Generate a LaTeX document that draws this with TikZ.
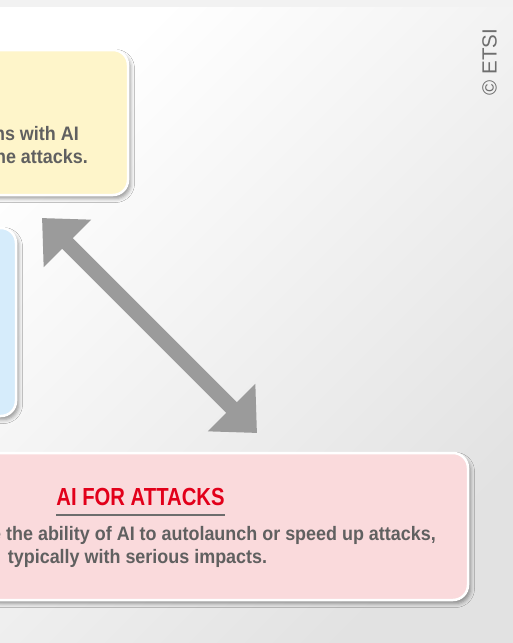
\documentclass[tikz,border=0pt]{standalone}
\usepackage{fontspec}
\setmainfont{Liberation Sans}
\newfontfamily\titlefont[FakeStretch=0.82]{Liberation Sans}
\newfontfamily\bodyfont[FakeStretch=0.92]{Liberation Sans}
\usetikzlibrary{arrows.meta,shadows.blur}
\definecolor{yellowfill}{HTML}{FEF5CA}
\definecolor{bluefill}{HTML}{D6ECFB}
\definecolor{redfill}{HTML}{FADADC}
\definecolor{arrowgray}{HTML}{9B9B9B}
\definecolor{textgray}{HTML}{606060}
\definecolor{titlered}{HTML}{E2001A}
\definecolor{linegray}{HTML}{6D6D6D}
\definecolor{bgdark}{HTML}{E2E2E2}
\definecolor{copygray}{HTML}{6E6E6E}
\tikzset{
  panel/.style={draw=white, line width=2.5pt, rounded corners=15pt,
    blur shadow={shadow xshift=2.5pt, shadow yshift=-3.5pt, shadow blur radius=4pt, shadow opacity=40}},
  bodytext/.style={inner sep=0pt, text=textgray, font=\bodyfont\bfseries\fontsize{19.5}{23}\selectfont},
  titletext/.style={inner sep=0pt, text=titlered, font=\titlefont\bfseries\fontsize{24.7}{28}\selectfont},
  bigarrow/.style={draw=arrowgray, fill=arrowgray, line width=15pt,
    {Triangle[width=65pt,length=36pt]}-{Triangle[width=65pt,length=36pt]}},
}
\begin{document}
\begin{tikzpicture}[x=1pt,y=-1pt]
\useasboundingbox (0,0) rectangle (513,643);
\clip (0,0) rectangle (513,643);
% background
\shade[top color=white, bottom color=bgdark, shading angle=45] (0,0) rectangle (513,643);
\fill[black!5] (0,0) rectangle (513,7);
% panels
\path[panel, fill=yellowfill] (-300,50) rectangle (128,195);
\path[panel, fill=bluefill] (-300,228) rectangle (16,416);
\path[panel, fill=redfill] (-300,453) rectangle (468,600);
% yellow panel text
\node[bodytext, anchor=base east] (y1) at (79,140.5) {ns with AI};
\node[bodytext, anchor=base east] (y2) at (88,163.5) {ne attacks.};
% red panel text
\node[titletext, anchor=base] (title) at (140.5,505) {AI FOR ATTACKS};
\draw[linegray, line width=2.3pt] ([yshift=-10pt]title.base west) -- ([yshift=-10pt]title.base east);
\node[bodytext, anchor=base east] (r1) at (436,540) {e the ability of AI to autolaunch or speed up attacks,};
\node[bodytext, anchor=base] (r2) at (137.5,563) {typically with serious impacts.};
% double arrow
\coordinate (ya) at (42,218);
\coordinate (ra) at (257,433);
\draw[bigarrow] (ya) -- (ra);
% copyright
\node[inner sep=0pt, text=copygray, font=\fontsize{20.5}{23}\selectfont, rotate=90] (copy) at (489.5,62) {© ETSI};
\end{tikzpicture}
\end{document}
